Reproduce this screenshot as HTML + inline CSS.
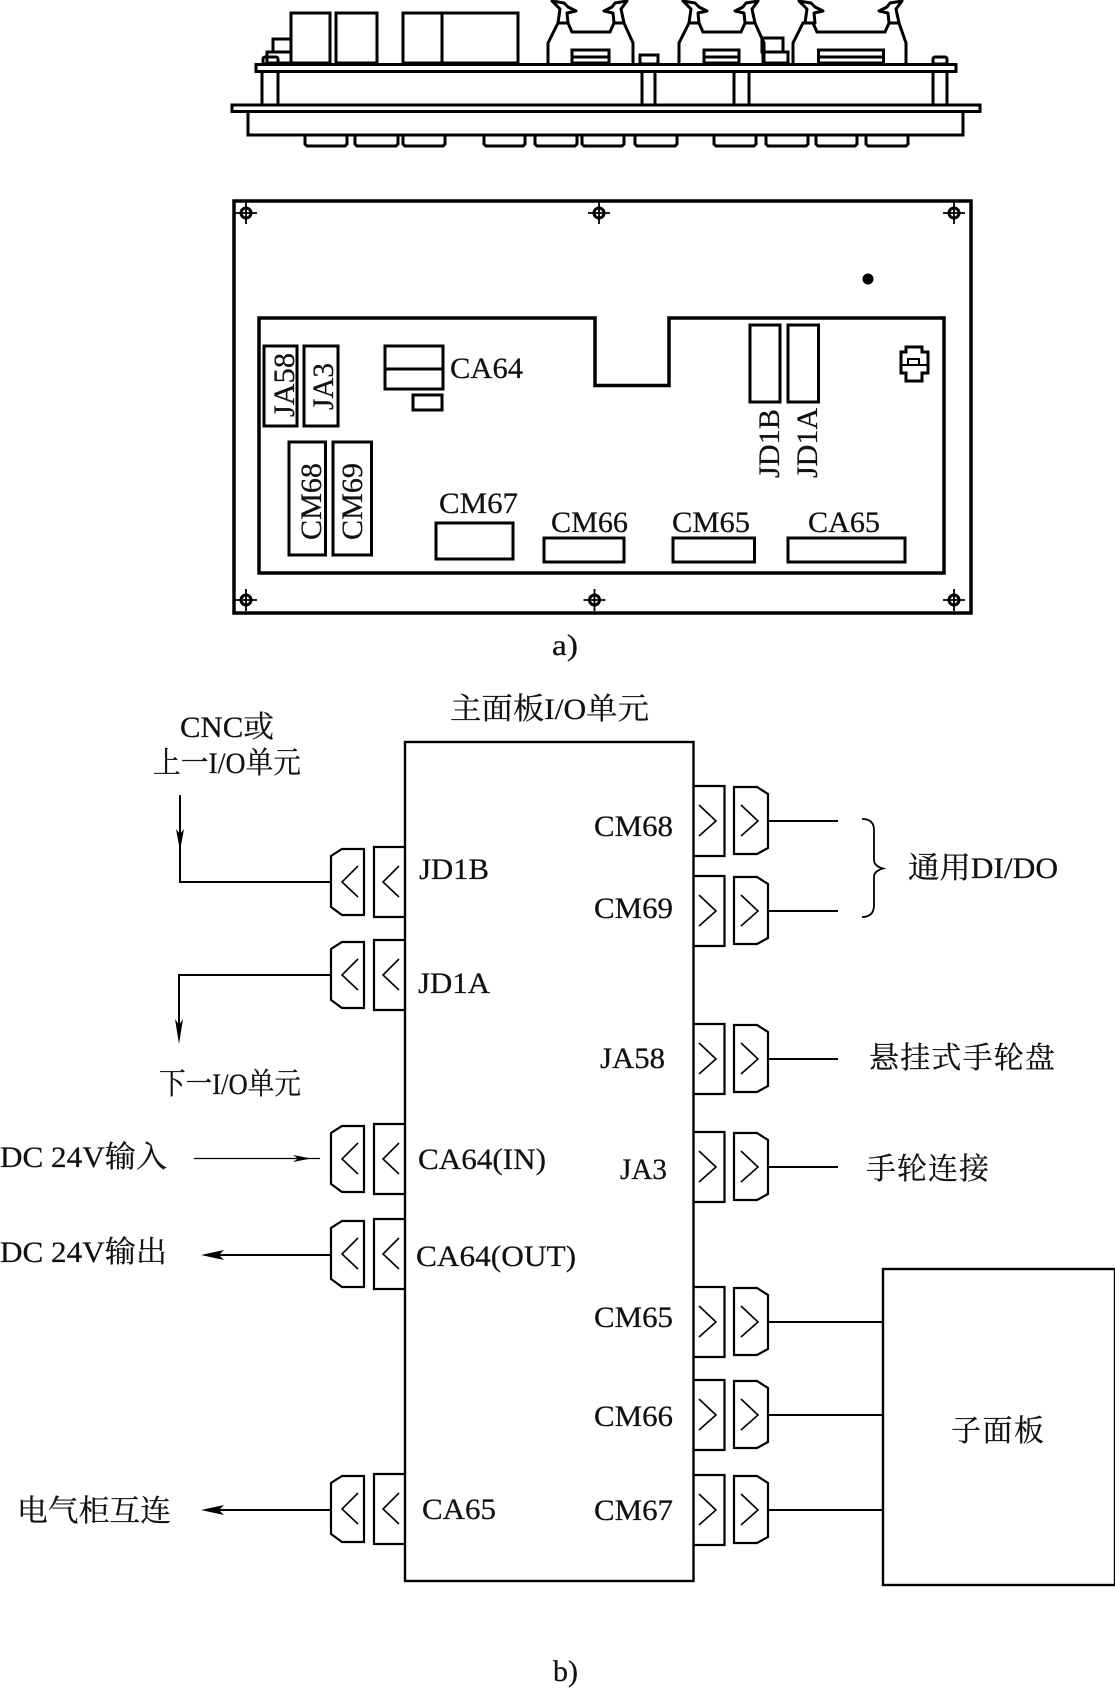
<!DOCTYPE html>
<html><head><meta charset="utf-8">
<style>
html,body{margin:0;padding:0;background:#fff}
svg{display:block}
text{font-family:"Liberation Serif","Noto Serif CJK SC",serif;font-size:30px;fill:#111;stroke:#111;stroke-width:.25px}
</style></head><body>
<svg width="1115" height="1688" viewBox="0 0 1115 1688" xmlns="http://www.w3.org/2000/svg">
<defs>
<g id="LC" fill="none" stroke="#000" stroke-width="2">
<path d="M405 -35H374V35H405" stroke-width="2.2"/>
<path d="M399 -16L383 0L399 15" stroke-width="1.6"/>
<path d="M364 -33H342L331 -26V25L342 33H364Z" stroke-width="2.2"/>
<path d="M358 -16L342 0L358 15" stroke-width="1.6"/>
</g>
<g id="RC" fill="none" stroke="#000" stroke-width="2">
<path d="M694 -35H724.5V35H694" stroke-width="2.2"/>
<path d="M699 -16L716 0L699 15" stroke-width="1.6"/>
<path d="M734 -34H757L768 -27V27L757 33H734Z" stroke-width="2.2"/>
<path d="M741 -16L758 0L741 15" stroke-width="1.6"/>
</g>
<g id="LL"><path d="M552 1L564 3L568 7L576 11L567 13L568 23H558L560 9Z" fill="#fff" stroke="#000" stroke-width="3" stroke-linejoin="round"/></g>
<g id="RL"><path d="M627 1L615 3L612 7L604 11L613 13L614 23H624L621 9Z" fill="#fff" stroke="#000" stroke-width="3" stroke-linejoin="round"/></g>
<g id="SC" fill="none" stroke="#000">
<circle r="5" stroke-width="3"/>
<path d="M0 -11V11M-11 0H11" stroke-width="1.800"/>
</g>
</defs>
<rect width="1115" height="1688" fill="#fff"/>

<!-- top view -->
<g fill="none" stroke="#000" stroke-width="3">
<rect x="291" y="13" width="39" height="50"/>
<rect x="336" y="13" width="41" height="50"/>
<rect x="403" y="13" width="39" height="50"/>
<rect x="442" y="13" width="76" height="50"/>
<rect x="273" y="39" width="18" height="13"/>
<rect x="267" y="52" width="24" height="11"/>
<rect x="263" y="57" width="15" height="7" rx="2"/>
<rect x="640" y="55" width="18" height="9"/>
<rect x="762" y="38" width="21" height="14"/>
<rect x="763" y="52" width="25" height="11"/>
<rect x="933" y="57" width="14" height="7" rx="2"/>

<path d="M548 63V43L558 23H568L572 32H610L614 23H624L633 43V63"/>
<rect x="572" y="50" width="37" height="13"/><path d="M572 57H609"/>
<path d="M679 63V43L689 23H699L703 32H741L745 23H755L764 43V63"/>
<rect x="704" y="50" width="35" height="13"/><path d="M704 57H739"/>
<path d="M793 63V43L803 23H813L817 32H885L889 23H899L906 43V63"/>
<rect x="818.5" y="50" width="65" height="13"/><path d="M818.5 57H883.5"/>

<rect x="256" y="64.5" width="700" height="7" fill="#fff"/>
<path d="M262 72V104M278 72V104M642 72V104M655 72V104M734 72V104M749 72V104M933 72V104M947 72V104"/>
<rect x="232" y="105" width="748" height="6.5" fill="#fff"/>
<path d="M248 112V135H963V112"/>
<path d="M305 135V144L307 146H345L347 144V135M355 135V144L357 146H396L398 144V135M403 135V144L405 146H443L445 144V135M484 135V144L486 146H523L525 144V135M535 135V144L537 146H575L577 144V135M582 135V144L584 146H622L624 144V135M635 135V144L637 146H675L677 144V135M714 135V144L716 146H754L756 144V135M766 135V144L768 146H806L808 144V135M816 135V144L818 146H855L857 144V135M866 135V144L868 146H906L908 144V135"/>
</g>
<use href="#LL"/><use href="#RL"/>
<use href="#LL" x="131"/><use href="#RL" x="131"/>
<use href="#LL" x="247"/><use href="#RL" x="275"/>

<!-- panel -->
<g fill="none" stroke="#000" stroke-width="3">
<rect x="234" y="201" width="737" height="412" stroke-width="3.5"/>
<path d="M259 318H595V385.5H669V318H944V573H259Z" stroke-width="3.5"/>
<rect x="264" y="346" width="33" height="80"/>
<rect x="304" y="346" width="34" height="80"/>
<rect x="385" y="346" width="58" height="43"/><path d="M385 369H443"/>
<rect x="413" y="395" width="29" height="15"/>
<rect x="289" y="442" width="36.500" height="113"/>
<rect x="333" y="442" width="38.500" height="113"/>
<rect x="436" y="523" width="77" height="36"/>
<rect x="544" y="538" width="80" height="24"/>
<rect x="673" y="538" width="81.500" height="24"/>
<rect x="788" y="538" width="117" height="24"/>
<rect x="750" y="325" width="30" height="77"/>
<rect x="788" y="325" width="30.500" height="77"/>
<path d="M901 352H906V347H922V352H928V373H922V381H906V373H901Z"/>
<rect x="908" y="359" width="11" height="6" stroke-width="2"/>
<path d="M901 365H928" stroke-width="2"/>
</g>
<circle cx="868" cy="279" r="5.500" fill="#000"/>
<use href="#SC" x="246" y="213"/><use href="#SC" x="599" y="213"/><use href="#SC" x="954" y="213"/>
<use href="#SC" x="246" y="600"/><use href="#SC" x="594.500" y="600"/><use href="#SC" x="954" y="600"/>

<text x="450" y="378" textLength="73" lengthAdjust="spacingAndGlyphs">CA64</text>
<text x="439" y="513" textLength="79" lengthAdjust="spacingAndGlyphs">CM67</text>
<text x="551" y="532" textLength="77" lengthAdjust="spacingAndGlyphs">CM66</text>
<text x="672" y="532" textLength="78" lengthAdjust="spacingAndGlyphs">CM65</text>
<text x="808" y="532" textLength="72" lengthAdjust="spacingAndGlyphs">CA65</text>
<text transform="translate(294,417) rotate(-90)" textLength="64" lengthAdjust="spacingAndGlyphs">JA58</text>
<text transform="translate(333,410) rotate(-90)" textLength="47" lengthAdjust="spacingAndGlyphs">JA3</text>
<text transform="translate(321,540) rotate(-90)" textLength="77" lengthAdjust="spacingAndGlyphs">CM68</text>
<text transform="translate(362,540) rotate(-90)" textLength="77" lengthAdjust="spacingAndGlyphs">CM69</text>
<text transform="translate(779,478) rotate(-90)" textLength="69" lengthAdjust="spacingAndGlyphs">JD1B</text>
<text transform="translate(817,478) rotate(-90)" textLength="70" lengthAdjust="spacingAndGlyphs">JD1A</text>
<text x="552" y="655" textLength="26" lengthAdjust="spacingAndGlyphs">a)</text>

<!-- block diagram -->
<rect x="405" y="742" width="288.500" height="839" fill="none" stroke="#000" stroke-width="2.4"/>
<rect x="883" y="1269" width="232" height="316" fill="none" stroke="#000" stroke-width="2.4"/>
<use href="#LC" y="882"/><use href="#LC" y="975"/><use href="#LC" y="1159"/><use href="#LC" y="1254"/><use href="#LC" y="1509"/>
<use href="#RC" y="821"/><use href="#RC" y="911"/><use href="#RC" y="1059"/><use href="#RC" y="1167"/><use href="#RC" y="1322"/><use href="#RC" y="1415"/><use href="#RC" y="1510"/>

<g fill="none" stroke="#000" stroke-width="2">
<path d="M180 795V882H331"/>
<path d="M331 975H179V1030"/>
<path d="M194 1158.500H320" stroke-width="1.300"/>
<path d="M331 1255H215"/>
<path d="M331 1510H215"/>
<path d="M768 821H838M768 911H838M768 1059H838M768 1167H838M768 1322H883M768 1415H883M768 1510H883"/>
<path d="M862 819Q874 819 874 830V860Q874 866 883 868.500Q874 871 874 877V905Q874 917 862 917" stroke-width="1.800"/>
</g>
<g fill="#000">
<path d="M176 829L180 851L184 829L180 834Z"/>
<path d="M175 1019L179 1044L183 1019L179 1025Z"/>
<path d="M293 1155L311 1158.500L293 1162L298 1158.500Z"/>
<path d="M201 1255L224 1250L219 1255L224 1260Z"/>
<path d="M201 1510L224 1505L219 1510L224 1515Z"/>
</g>

<text x="450" y="719" textLength="199" lengthAdjust="spacingAndGlyphs">主面板I/O单元</text>
<text x="180" y="737" textLength="94" lengthAdjust="spacingAndGlyphs">CNC或</text>
<text x="153" y="773" textLength="148" lengthAdjust="spacingAndGlyphs">上一I/O单元</text>
<text x="159" y="1094" textLength="142" lengthAdjust="spacingAndGlyphs">下一I/O单元</text>
<text x="0" y="1167" textLength="167" lengthAdjust="spacingAndGlyphs">DC 24V输入</text>
<text x="0" y="1262" textLength="167" lengthAdjust="spacingAndGlyphs">DC 24V输出</text>
<text x="17" y="1521" textLength="154" lengthAdjust="spacingAndGlyphs">电气柜互连</text>

<text x="419" y="879" textLength="70" lengthAdjust="spacingAndGlyphs">JD1B</text>
<text x="418" y="993" textLength="72" lengthAdjust="spacingAndGlyphs">JD1A</text>
<text x="418" y="1169" textLength="128" lengthAdjust="spacingAndGlyphs">CA64(IN)</text>
<text x="416" y="1266" textLength="160" lengthAdjust="spacingAndGlyphs">CA64(OUT)</text>
<text x="422" y="1519" textLength="74" lengthAdjust="spacingAndGlyphs">CA65</text>
<text x="594" y="836" textLength="79" lengthAdjust="spacingAndGlyphs">CM68</text>
<text x="594" y="918" textLength="79" lengthAdjust="spacingAndGlyphs">CM69</text>
<text x="600" y="1068" textLength="65" lengthAdjust="spacingAndGlyphs">JA58</text>
<text x="620" y="1179" textLength="47" lengthAdjust="spacingAndGlyphs">JA3</text>
<text x="594" y="1327" textLength="79" lengthAdjust="spacingAndGlyphs">CM65</text>
<text x="594" y="1426" textLength="79" lengthAdjust="spacingAndGlyphs">CM66</text>
<text x="594" y="1520" textLength="79" lengthAdjust="spacingAndGlyphs">CM67</text>
<text x="908" y="878" textLength="150" lengthAdjust="spacingAndGlyphs">通用DI/DO</text>
<text x="869" y="1068" textLength="186" lengthAdjust="spacing">悬挂式手轮盘</text>
<text x="866" y="1179" textLength="123" lengthAdjust="spacing">手轮连接</text>
<text x="951" y="1441" textLength="93" lengthAdjust="spacing">子面板</text>
<text x="553" y="1681" textLength="25" lengthAdjust="spacingAndGlyphs">b)</text>
</svg>
</body></html>
